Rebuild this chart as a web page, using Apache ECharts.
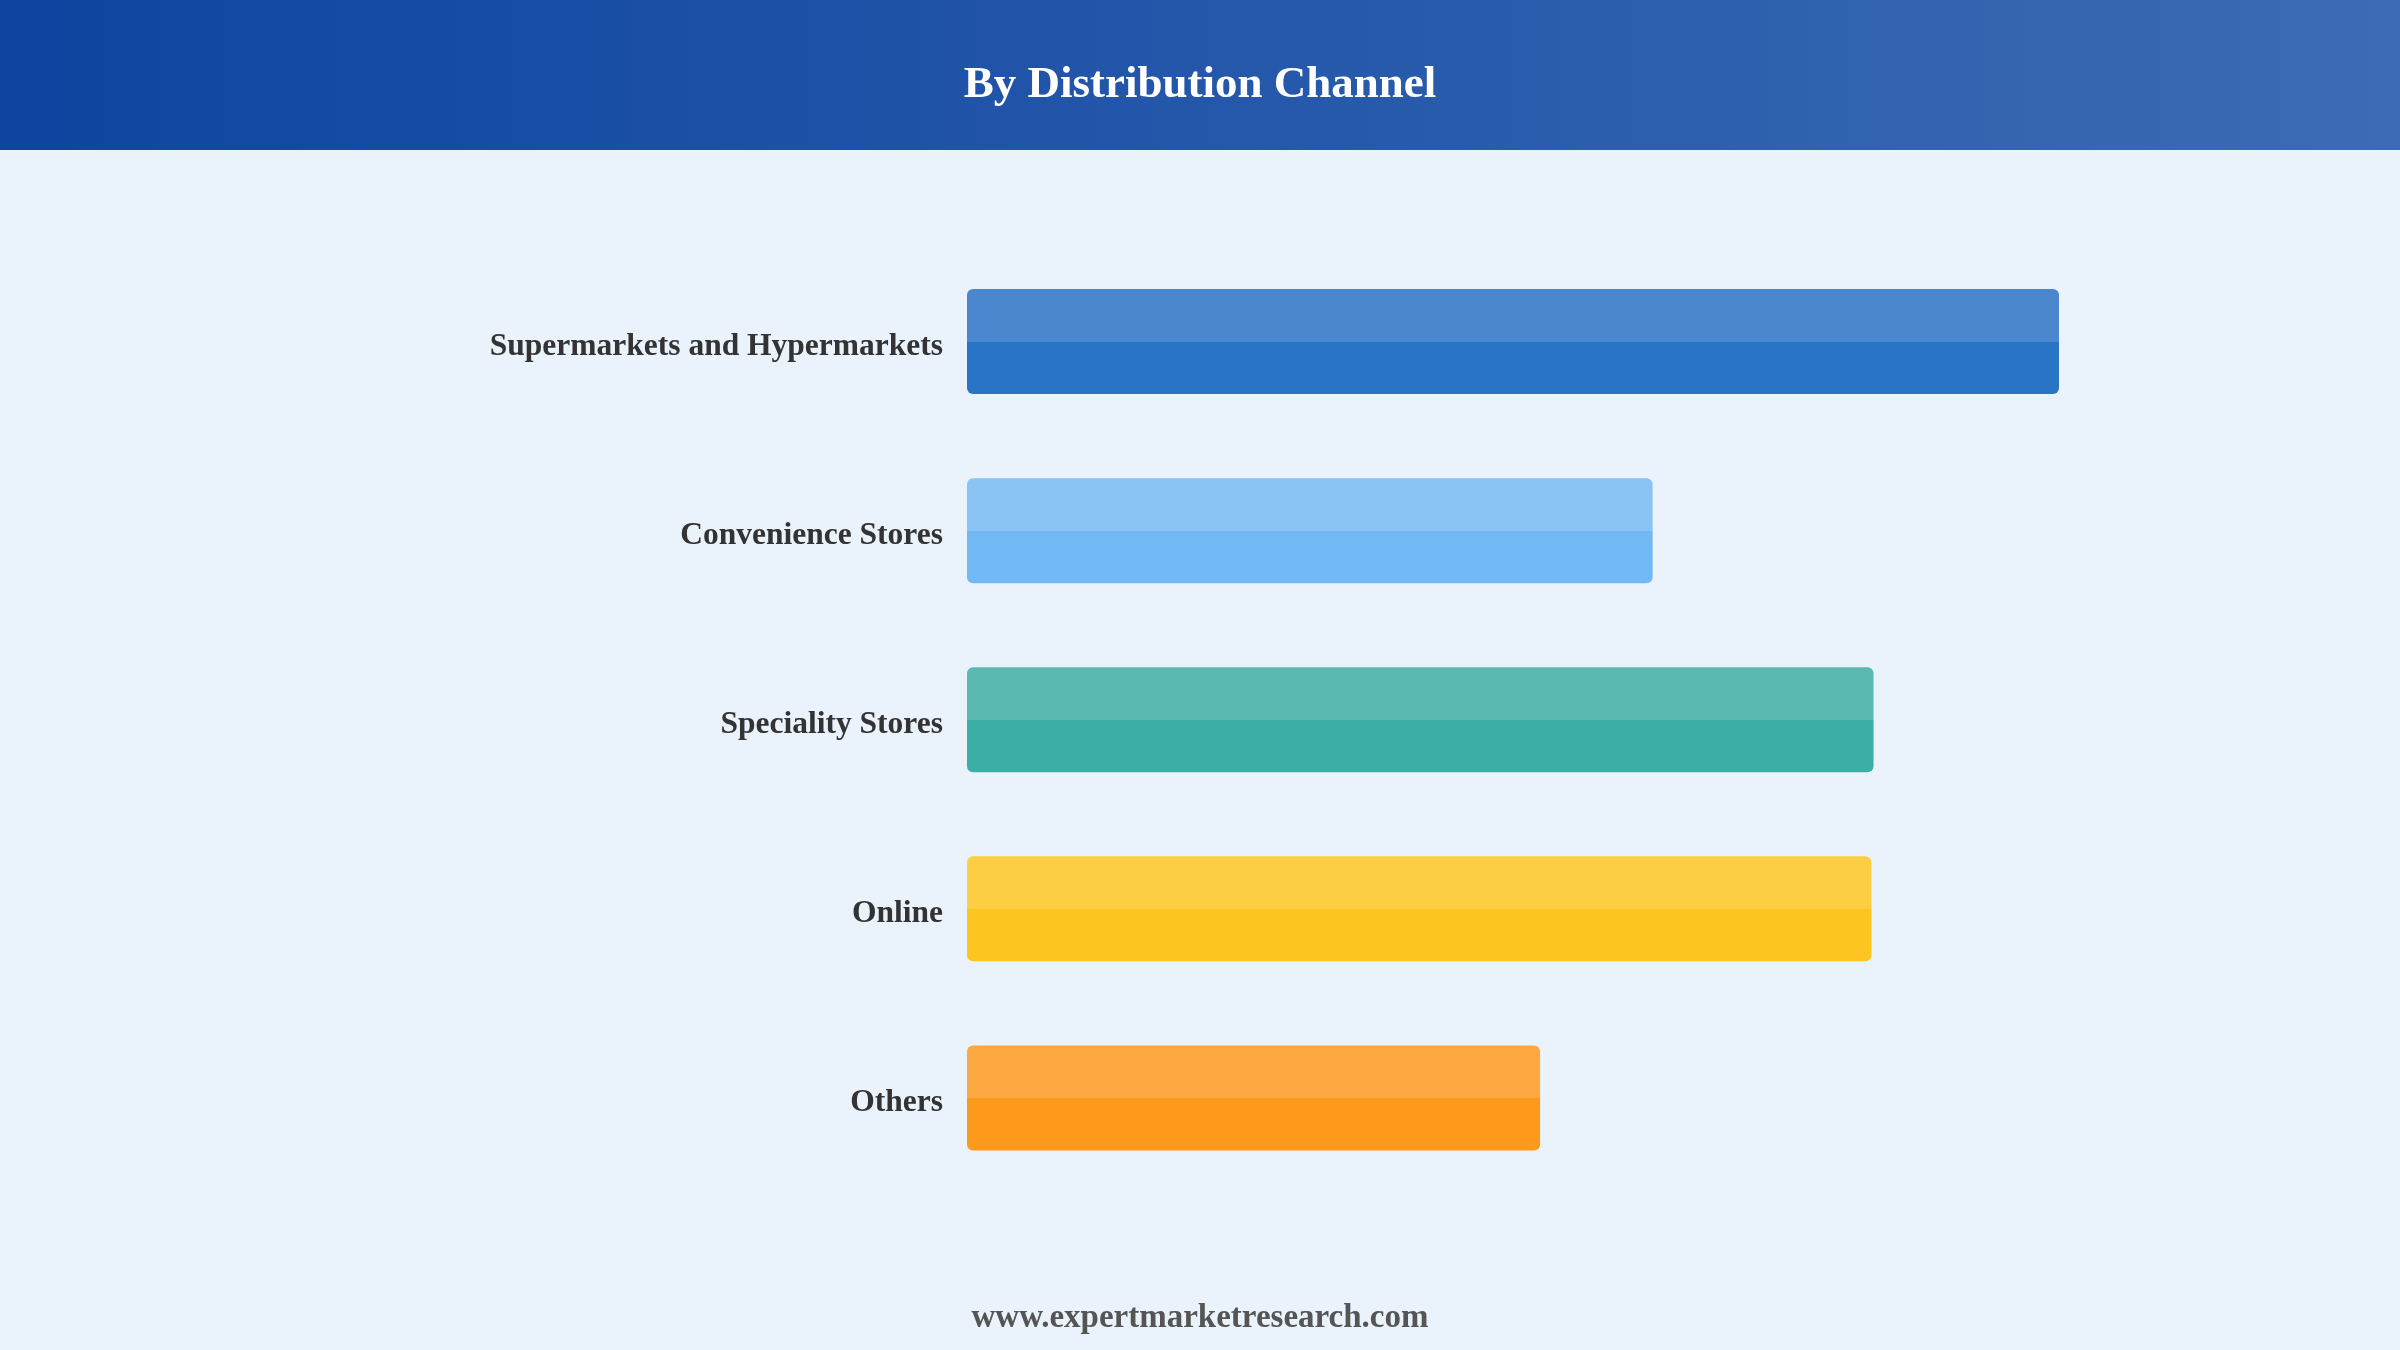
<!DOCTYPE html>
<html>
<head>
<meta charset="utf-8">
<script src="https://cdn.jsdelivr.net/npm/echarts@6/dist/echarts.min.js"></script>
<style>
html,body{margin:0;padding:0;background:#EAF2FB;}
#chart{width:2400px;height:1350px;}
</style>
</head>
<body>
<div id="chart"></div>
<script>
const categories = ['Supermarkets and Hypermarkets','Convenience Stores','Speciality Stores','Online','Others'];
const values = [26.2, 16.45, 21.75, 21.7, 13.75];
const topColors = ['#4A87CE','#89C4F5','#5AB9B1','#FDCD44','#FDA740'];
const bottomColors = ['#2A74C5','#70B9F4','#3BAEA6','#FCC520','#FD9A1B'];
const titleText = 'By Distribution Channel';
const sourceText = 'www.expertmarketresearch.com';

const chart = echarts.init(document.getElementById('chart'));
const data = values.map((v,i)=>({
  value: v,
  itemStyle: {
    color: {
      type:'linear', x:0, y:0, x2:0, y2:1,
      colorStops:[
        {offset:0, color:topColors[i]},
        {offset:0.5, color:topColors[i]},
        {offset:0.5, color:bottomColors[i]},
        {offset:1, color:bottomColors[i]}
      ]
    }
  }
}));
const labelFont = '"Liberation Serif", "Times New Roman", serif';
chart.setOption({
  backgroundColor:'#EAF2FB',
  animation:false,
  graphic:[
    {type:'rect', left:0, top:0, z:0, shape:{x:0,y:0,width:2400,height:150},
     style:{fill:{type:'linear',x:0,y:0,x2:1,y2:0,colorStops:[{offset:0,color:'#0E45A0'},{offset:0.5,color:'#2457AA'},{offset:1,color:'#3D6BB5'}]}}},
    {type:'text', left:'center', top:1302, z:5,
     style:{text:sourceText, fill:'#555555', font:'bold 33px "Liberation Serif", "Times New Roman", serif'}}
  ],
  title:{
    text:titleText, left:'center', top:58,
    textStyle:{color:'#ffffff', fontSize:45, fontWeight:'bold', fontFamily:labelFont},
    z:10
  },
  grid:{left:967, right:341, top:247, bottom:157.5, containLabel:false},
  xAxis:{type:'value', min:0, max:26.2, show:false},
  yAxis:{
    type:'category', data:categories, inverse:true,
    axisLine:{show:false}, axisTick:{show:false}, splitLine:{show:false},
    axisLabel:{
      margin:24,
      formatter:function(v){ return '{a|' + v + '}'; },
      rich:{a:{padding:[10,0,0,0], color:'#333333', fontSize:31.5, fontWeight:'bold', fontFamily:labelFont}}
    }
  },
  series:[{
    type:'bar', data:data, barWidth:105,
    itemStyle:{borderRadius:6}
  }]
});
</script>
</body>
</html>
